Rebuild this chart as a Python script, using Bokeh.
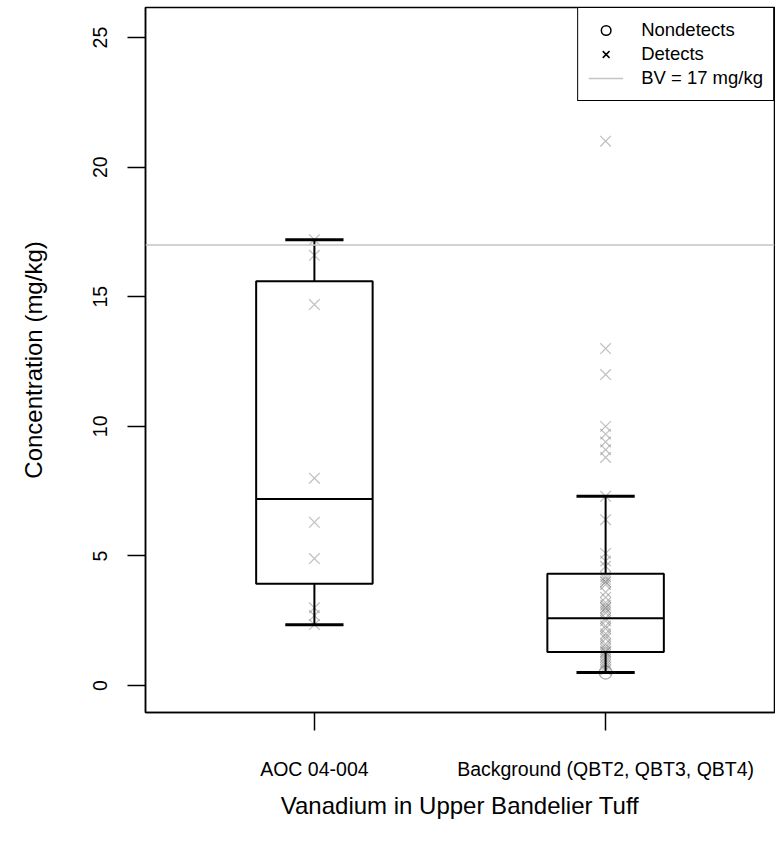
from bokeh.plotting import figure
from bokeh.models import (Range1d, FixedTicker, Span, Legend, LegendItem, ColumnDataSource)
from bokeh.embed import file_html
from bokeh.resources import INLINE

# ---- data ----
categories = ["AOC 04-004", "Background (QBT2, QBT3, QBT4)"]
positions = [1, 2]
# box statistics
whisker_low = [2.35, 0.5]
q1 = [3.93, 1.29]
median = [7.2, 2.6]
q3 = [15.6, 4.31]
whisker_high = [17.2, 7.3]

aoc_detects = [17.2, 16.6, 14.7, 8.0, 6.3, 4.9, 3.0, 2.7, 2.35]
bg_detects = [21.0, 13.0, 12.0, 10.0, 9.7, 9.4, 9.1, 8.8, 7.3, 6.4, 5.1, 4.8, 4.6,
              4.2, 4.1, 4.0, 4.0, 3.9, 3.6, 3.4, 3.2, 3.1, 3.0, 3.0, 2.9, 2.8, 2.6,
              2.5, 2.3, 2.2, 2.0, 1.9, 1.8, 1.6, 1.5, 1.4, 1.3, 1.3, 1.2, 1.1, 1.0,
              0.9, 0.8, 0.7, 0.6]
bg_nondetects = [0.5]
bv_value = 17
y_ticks = [0, 5, 10, 15, 20, 25]

FONT = "Liberation Sans"
box_width = 0.4
cap_width = 0.2
NAN = float("nan")

p = figure(width=775, height=840, output_backend="svg", toolbar_location=None,
           x_range=Range1d(0.42, 2.58), y_range=Range1d(-1.04, 26.16),
           min_border_left=145, min_border_right=1, min_border_top=7,
           min_border_bottom=128)
p.grid.visible = False
p.outline_line_color = "black"
p.outline_line_width = 1.5
p.outline_line_alpha = 1.0
p.background_fill_color = "white"
p.border_fill_color = "white"

# axes
p.xaxis.ticker = FixedTicker(ticks=positions)
p.xaxis.major_label_overrides = {pos: lab for pos, lab in zip(positions, categories)}
p.yaxis.ticker = FixedTicker(ticks=y_ticks)
for ax in (p.xaxis[0], p.yaxis[0]):
    ax.minor_tick_line_color = None
    ax.major_tick_in = 0
    ax.major_tick_out = 18
    ax.major_tick_line_width = 1.5
    ax.axis_line_width = 1.5
    ax.major_label_text_font = FONT
    ax.major_label_text_font_size = "19.5px"
    ax.major_label_text_color = "black"
    ax.axis_label_text_font = FONT
    ax.axis_label_text_font_size = "24px"
    ax.axis_label_text_font_style = "normal"
    ax.axis_label_text_color = "black"
p.yaxis.major_label_orientation = "vertical"
p.yaxis.major_label_standoff = 20
p.yaxis.axis_label = "Concentration (mg/kg)"
p.yaxis.axis_label_standoff = 44
p.xaxis.major_label_standoff = 27
p.xaxis.axis_label = "Vanadium in Upper Bandelier Tuff"
p.xaxis.axis_label_standoff = 9

# BV line
p.add_layout(Span(location=bv_value, dimension="width", line_color="#c4c4c4", line_width=1.5))

# points
pt_color = "#808080"
p.scatter(x=[positions[0]] * len(aoc_detects), y=aoc_detects, marker="x", size=15,
          line_color=pt_color, line_alpha=0.5, line_width=1.2)
p.scatter(x=[positions[1]] * len(bg_detects), y=bg_detects, marker="x", size=15,
          line_color=pt_color, line_alpha=0.5, line_width=1.2)
p.scatter(x=[positions[1]] * len(bg_nondetects), y=bg_nondetects, marker="circle", size=13,
          fill_color=None, line_color=pt_color, line_alpha=0.7, line_width=1.2)

# boxes
src = ColumnDataSource(dict(
    x=positions, q1=q1, q3=q3, med=median, lo=whisker_low, hi=whisker_high,
    bl=[x - box_width / 2 for x in positions], br=[x + box_width / 2 for x in positions],
    cl=[x - cap_width / 2 for x in positions], cr=[x + cap_width / 2 for x in positions]))
p.segment(x0="x", y0="q3", x1="x", y1="hi", source=src, line_color="black", line_width=2)
p.segment(x0="x", y0="q1", x1="x", y1="lo", source=src, line_color="black", line_width=2)
p.segment(x0="cl", y0="hi", x1="cr", y1="hi", source=src, line_color="black", line_width=3)
p.segment(x0="cl", y0="lo", x1="cr", y1="lo", source=src, line_color="black", line_width=3)
p.quad(left="bl", right="br", bottom="q1", top="q3", source=src, fill_color=None,
       line_color="black", line_width=2)
p.segment(x0="bl", y0="med", x1="br", y1="med", source=src, line_color="black", line_width=2)

# legend (renderers with NaN data carry the legend symbols)
r_nd = p.scatter(x=[NAN], y=[NAN], marker="circle", size=9, fill_color=None,
                 line_color="black", line_width=1.5)
r_d = p.scatter(x=[NAN], y=[NAN], marker="x", size=10, line_color="black", line_width=1.5)
r_bv = p.line(x=[NAN, NAN], y=[NAN, NAN], line_color="#c4c4c4", line_width=1.5)
legend = Legend(items=[LegendItem(label="Nondetects", renderers=[r_nd], index=0),
                       LegendItem(label="Detects", renderers=[r_d], index=0),
                       LegendItem(label="BV = 17 mg/kg", renderers=[r_bv])],
                location="top_right", margin=0, padding=10, spacing=0,
                glyph_width=35, glyph_height=24, label_height=24, label_standoff=18,
                label_text_font=FONT, label_text_font_size="18.5px",
                label_text_color="black",
                border_line_color="black", border_line_width=1.5, border_line_alpha=1.0,
                background_fill_alpha=1.0)
p.add_layout(legend)

open("out.html", "w").write(file_html(p, INLINE))
